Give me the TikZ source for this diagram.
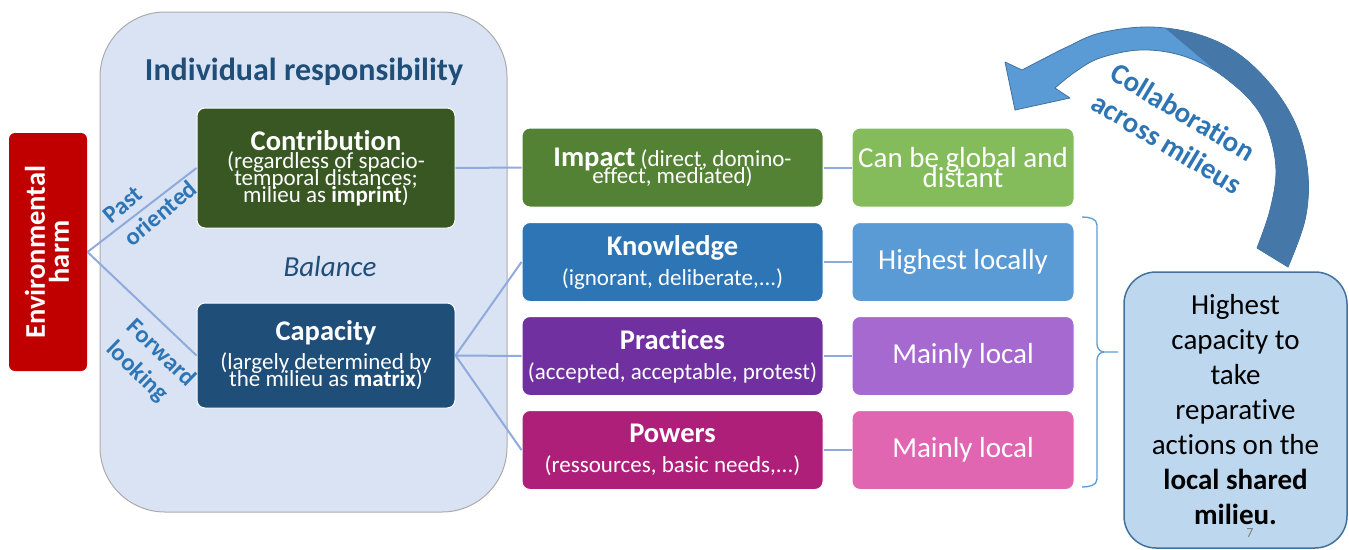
\documentclass[tikz,border=0pt]{standalone}
\usepackage{fontspec}
\setmainfont{Carlito}[Ligatures={NoCommon}]
\definecolor{bigfill}{HTML}{DAE3F3}
\definecolor{bordergray}{HTML}{ABABAB}
\definecolor{hred}{HTML}{C00000}
\definecolor{cgreen}{HTML}{385723}
\definecolor{capblue}{HTML}{1F4E79}
\definecolor{impgreen}{HTML}{548235}
\definecolor{globgreen}{HTML}{84BC5C}
\definecolor{knowblue}{HTML}{2E75B6}
\definecolor{hlblue}{HTML}{5B9BD5}
\definecolor{pracpurple}{HTML}{7030A0}
\definecolor{mlpurple}{HTML}{A569D0}
\definecolor{powmag}{HTML}{AD1F78}
\definecolor{mlpink}{HTML}{E066B2}
\definecolor{lineblue}{HTML}{8FAADC}
\definecolor{bracecol}{HTML}{5B9BD5}
\definecolor{hfill}{HTML}{BDD7EE}
\definecolor{hborder}{HTML}{41719C}
\definecolor{arrowlight}{HTML}{5B9BD5}
\definecolor{arrowdark}{HTML}{4677A9}
\definecolor{textdark}{HTML}{1F4E79}
\definecolor{textmid}{HTML}{2E75B6}
\newcommand\fnt[2]{\fontsize{#1}{#2}\selectfont\lineskiplimit=-200pt\lineskip=0pt}
\begin{document}
\begin{tikzpicture}[x=1pt,y=-1pt,
  box/.style={rounded corners=8pt, draw=white, line width=1pt, text=white, align=center, inner sep=0pt},
  leftbox/.style={box, minimum width=258pt},
  midbox/.style={box, minimum width=301pt, minimum height=79pt, font=\fnt{23}{17}},
  rightbox/.style={box, minimum width=222pt, minimum height=79pt, font=\fnt{29}{20}},
  conn/.style={draw=lineblue, line width=2pt},
  lbl/.style={text=textmid, font=\fnt{24.5}{24}\bfseries, inner sep=0pt}]
\useasboundingbox (0,0) rectangle (1349,549);

% big container
\node[draw=bordergray, fill=bigfill, line width=1pt, rounded corners=65pt,
      minimum width=407pt, minimum height=500pt, inner sep=0pt] (indiv) at (303.5,262) {};
\node[text=textdark, font=\fnt{32}{32}\bfseries, inner sep=0pt] (title) at (304,72) {Individual responsibility};

% environmental harm
\node[box, draw=none, fill=hred, rounded corners=6pt, minimum width=78pt, minimum height=238pt] (harm) at (48,252) {};
\node[rotate=90, text=white, align=center, inner sep=0pt, font=\fnt{28.5}{24}\bfseries] (harmtext) at (47,252) {Environmental\\harm};

% left boxes
\node[leftbox, fill=cgreen, minimum height=120pt, font=\fnt{23}{17}] (contrib) at (326,168)
  {{\fnt{28.5}{17}\bfseries Contribution}\\[1pt](regardless of spacio-\\temporal distances;\\milieu as \textbf{imprint})};
\node[leftbox, fill=capblue, minimum height=105pt, font=\fnt{23}{17}] (cap) at (326,355.5)
  {{\fnt{28.5}{17}\bfseries Capacity}\\[12pt](largely determined by\\the milieu as \textbf{matrix})};
\node[text=textdark, font=\fnt{29}{29}\itshape, inner sep=0pt] (balance) at (330,267) {Balance};

% middle boxes
\node[midbox, fill=impgreen] (impact) at (672.5,167.5)
  {{\fnt{28.5}{17}\bfseries Impact} (direct, domino-\\effect, mediated)};
\node[midbox, fill=knowblue] (know) at (672.5,262)
  {{\fnt{28.5}{17}\bfseries Knowledge}\\[13pt](ignorant, deliberate,...)};
\node[midbox, fill=pracpurple] (prac) at (672.5,356)
  {{\fnt{28.5}{17}\bfseries Practices}\\[13pt](accepted, acceptable, protest)};
\node[midbox, fill=powmag] (pow) at (672.5,450)
  {{\fnt{28.5}{17}\bfseries Powers}\\[13pt](ressources, basic needs,...)};

% right boxes
\node[rightbox, fill=globgreen] (glob) at (963,167.5) {Can be global and\\distant};
\node[rightbox, fill=hlblue] (hloc) at (963,262) {Highest locally};
\node[rightbox, fill=mlpurple] (mloc1) at (963,356) {Mainly local};
\node[rightbox, fill=mlpink] (mloc2) at (963,450) {Mainly local};

% connectors
\draw[conn] (harm.east) -- (contrib.west);
\draw[conn] (harm.east) -- (cap.west);
\draw[conn] (contrib.east) -- (impact.west);
\draw[conn] (cap.east) -- (know.west);
\draw[conn] (cap.east) -- (prac.west);
\draw[conn] (cap.east) -- (pow.west);
\draw[conn] (impact.east) -- (glob.west);
\draw[conn] (know.east) -- (hloc.west);
\draw[conn] (prac.east) -- (mloc1.west);
\draw[conn] (pow.east) -- (mloc2.west);

% orientation labels
\node[lbl, rotate=40] (past) at (123,205) {Past};
\node[lbl, rotate=40] (oriented) at (160,213) {oriented};
\node[lbl, rotate=-44] (forward) at (162,352) {Forward};
\node[lbl, rotate=-44] (looking) at (137,372) {looking};

% highest capacity box
\node[draw=hborder, fill=hfill, line width=1.5pt, rounded corners=32pt,
      minimum width=223pt, minimum height=276pt, inner sep=0pt, align=center,
      font=\fnt{29}{35}] (high) at (1235.5,410)
  {Highest\\capacity to\\take\\reparative\\actions on the\\\textbf{local shared}\\\textbf{milieu.}};

% brace
\coordinate (bracetip) at (1118,352);
\draw[bracecol, line width=1.3pt] (1082,217) to[out=0,in=90] (1097,225) -- (1097,344)
   to[out=-90,in=180] (1104,352) -- (bracetip);
\draw[bracecol, line width=1.3pt] (1104,352) to[out=180,in=90] (1097,360) -- (1097,479)
   to[out=-90,in=0] (1082,487);

% curved arrow
\filldraw[fill=arrowlight, draw=hborder, line width=0.8pt, line join=round]
  plot[smooth, tension=0.6] coordinates {(1022,70) (1047,57) (1067,47) (1100,33) (1150,27) (1200,35) (1240,55) (1275,90) (1298,130) (1308,175) (1305,220) (1288,267)}
  -- plot[smooth, tension=0.6] coordinates {(1257,248) (1270,210) (1276,170) (1268,130) (1250,100) (1217,72) (1180,55) (1140,50) (1100,58) (1075,72) (1055,88)}
  -- (1070,98) -- (1015,110) -- (1005,62) -- cycle;
\fill[arrowdark]
  plot[smooth, tension=0.6] coordinates {(1165,28) (1200,35) (1240,55) (1275,90) (1298,130) (1308,175) (1305,220) (1288,267)}
  -- plot[smooth, tension=0.6] coordinates {(1257,248) (1270,210) (1276,170) (1268,130) (1250,100) (1217,72)}
  -- cycle;
\node[rotate=-31, text=textmid, font=\fnt{29}{29}\bfseries, inner sep=0pt] (collab) at (1183,112) {Collaboration};
\node[rotate=-31, text=textmid, font=\fnt{29}{29}\bfseries, inner sep=0pt] (across) at (1167,143) {across milieus};

% page number
\node[text=gray, font=\fnt{14}{14}, inner sep=0pt] (pg) at (1250,533) {7};
\end{tikzpicture}
\end{document}
